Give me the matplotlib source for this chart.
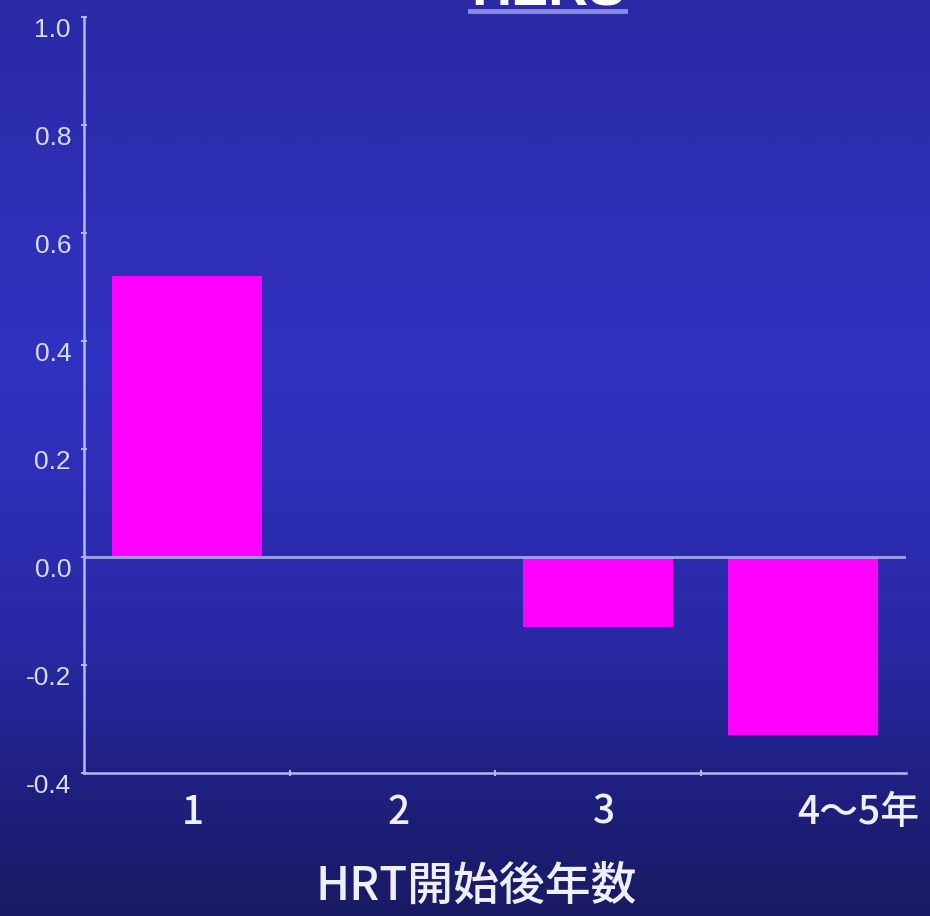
import numpy as np
import matplotlib
matplotlib.use("Agg")
import matplotlib.pyplot as plt
from matplotlib.colors import LinearSegmentedColormap
from matplotlib.lines import Line2D
import matplotlib.transforms as mtransforms

plt.rcParams['font.family'] = ['Noto Sans CJK JP', 'DejaVu Sans']

# change in value by years since HRT start
categories = ["1", "2", "3", "4〜5年"]
values = [0.52, 0.0, -0.13, -0.33]
yticks = [-0.4, -0.2, 0.0, 0.2, 0.4, 0.6, 0.8, 1.0]
ytick_labels = ["-0.4", "-0.2", "0.0", "0.2", "0.4", "0.6", "0.8", "1.0"]
title = "HERS"
xlabel = "HRT開始後年数"

fg = "#b4b8f2"
bar_color = "#ff00ff"

fig = plt.figure(figsize=(9.30, 9.16), dpi=100)

# slide-style vertical gradient behind everything
bg = fig.add_axes([0, 0, 1, 1], zorder=-10)
bg_cmap = LinearSegmentedColormap.from_list("slide", [
    (0.00, (0.165, 0.165, 0.650)),
    (0.40, (0.195, 0.195, 0.760)),
    (0.70, (0.160, 0.160, 0.650)),
    (0.85, (0.125, 0.125, 0.510)),
    (1.00, (0.100, 0.100, 0.390)),
])
grad = np.linspace(0, 1, 512).reshape(-1, 1)
bg.imshow(grad, aspect="auto", cmap=bg_cmap, extent=[0, 1, 0, 1], origin="upper")
bg.set_axis_off()

ax = fig.add_axes([84 / 930, 1 - 773 / 916, 822 / 930, 756 / 916])
ax.patch.set_visible(False)

x = np.arange(len(categories))
ax.bar(x, values, width=0.73, color=bar_color, zorder=2)
ax.axhline(0, color="#a8aef0", lw=2.2, alpha=0.85, zorder=3)

ax.set_xlim(-0.5, len(categories) - 0.5)
ax.set_ylim(yticks[0], yticks[-1])

for side in ["top", "right"]:
    ax.spines[side].set_visible(False)
for side in ["left", "bottom"]:
    ax.spines[side].set_color(fg)
    ax.spines[side].set_linewidth(1.8)

ax.set_yticks(yticks)
ax.set_yticklabels([])
ax.tick_params(axis="y", direction="inout", length=4, width=1.5, color=fg)
ax.set_xticks(x[:-1] + 0.5)
ax.set_xticklabels([])
ax.tick_params(axis="x", direction="inout", length=4, width=1.5, color=fg)

# y labels sit a little below their tick marks
ylab_tr = mtransforms.offset_copy(ax.get_yaxis_transform(), fig=fig,
                                  x=-13, y=-13, units="dots")
for v, lab in zip(yticks, ytick_labels):
    ax.text(0, v, lab, transform=ylab_tr, ha="right", va="center",
            fontsize=19, color="#d8dcff", family=["Liberation Sans", "DejaVu Sans"])

# category labels under the axis
xlab_tr = mtransforms.offset_copy(ax.get_xaxis_transform(), fig=fig,
                                  x=6, y=-40, units="dots")
for i, lab in enumerate(categories):
    dx = 0.24 if i == len(categories) - 1 else 0.0
    ax.text(i + dx, 0, lab, transform=xlab_tr, ha="center", va="center",
            fontsize=28, fontweight="medium", color="#eef0ff")

fig.text(476 / 930, 1 - 886 / 916, xlabel, ha="center", va="center",
         fontsize=33, fontweight="medium", color="#eef0ff")

# title mostly above the frame, with underline
fig.text(548 / 930, 1 - 5 / 916, title, ha="center", va="baseline",
         fontsize=40, fontweight="bold", color="white",
         family=["Liberation Sans", "DejaVu Sans"])
fig.add_artist(Line2D([470 / 930, 625 / 930], [1 - 11 / 916, 1 - 11 / 916],
                      transform=fig.transFigure, color="#8a8ae2", lw=3.5))

fig.savefig("out.png", dpi=100)
